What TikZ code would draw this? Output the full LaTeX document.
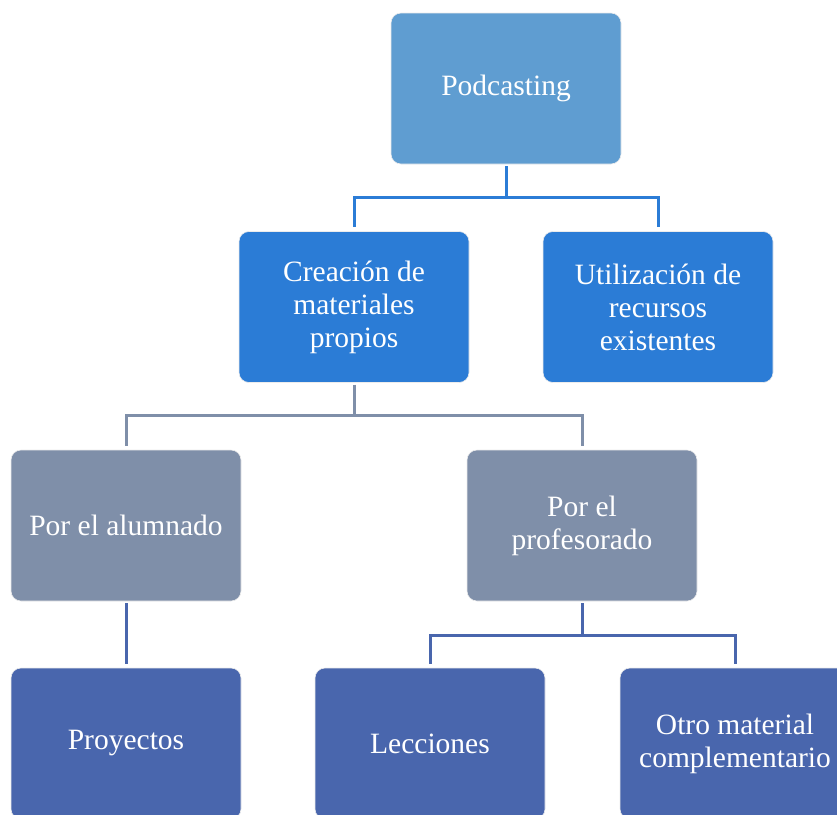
\documentclass[tikz,border=0pt]{standalone}
\usepackage{fontspec}
\setmainfont{Liberation Serif}
\definecolor{topblue}{RGB}{95,157,209}
\definecolor{midblue}{RGB}{43,124,214}
\definecolor{slate}{RGB}{127,143,169}
\definecolor{deepblue}{RGB}{73,102,173}
\begin{document}
\begin{tikzpicture}[x=1pt, y=-1pt,
    every node/.style={rectangle, rounded corners=10pt, draw=white!85!gray, line width=0.6pt,
      minimum width=230pt, minimum height=151pt, text=white, align=center,
      font=\fontsize{29.5}{33}\selectfont},
    link/.style={line width=3pt, shorten <=2pt, shorten >=4pt}]
    \useasboundingbox (0,0) rectangle (837,814);
    \clip (0,0) rectangle (837,814);
    % Level 1
    \node[fill=topblue] (pod) at (506,88.5) {Podcasting};
    
    % Level 2
    \node[fill=midblue] (cre) at (354,307) {Creación de\\materiales\\propios};
    \node[fill=midblue] (uti) at (658,307) {Utilización de\\recursos\\existentes};
    
    % Level 3
    \node[fill=slate] (alu) at (126,525.5) {Por el alumnado};
    \node[fill=slate] (pro) at (582,525.5) {Por el\\profesorado};
    
    % Level 4
    \node[fill=deepblue] (proy) at (126,743.5) {Proyectos};
    \node[fill=deepblue] (lec) at (430,743.5) {Lecciones};
    \node[fill=deepblue] (otro) at (735,743.5) {Otro material\\complementario};
    
    % Connectors
    \draw[link, midblue] (pod.south) -- ++(0,33) -| (cre.north);
    \draw[link, midblue] (pod.south) -- ++(0,33) -| (uti.north);
    \draw[link, slate] (cre.south) -- ++(0,33) -| (alu.north);
    \draw[link, slate] (cre.south) -- ++(0,33) -| (pro.north);
    \draw[link, deepblue] (alu.south) -- (proy.north);
    \draw[link, deepblue] (pro.south) -- ++(0,34) -| (lec.north);
    \draw[link, deepblue] (pro.south) -- ++(0,34) -| (otro.north);
\end{tikzpicture}
\end{document}
